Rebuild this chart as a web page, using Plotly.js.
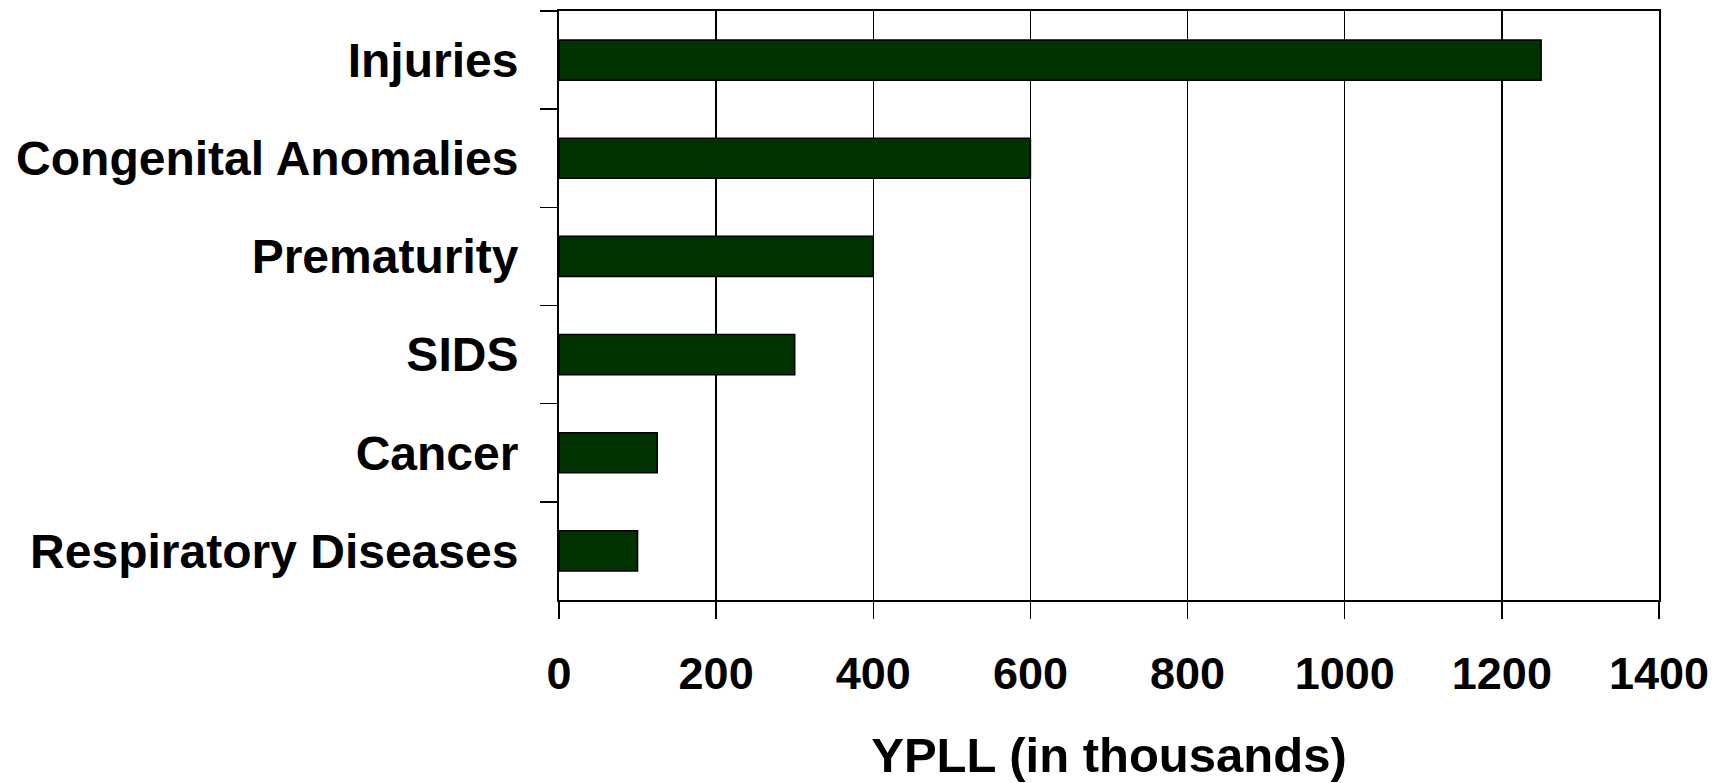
<!DOCTYPE html>
<html>
<head>
<meta charset="utf-8">
<script src="https://cdn.plot.ly/plotly-3.0.1.min.js"></script>
<style>
  html, body { margin: 0; padding: 0; background: #ffffff; }
  #chart { width: 1728px; height: 783px; }
</style>
</head>
<body>
<div id="chart"></div>
<script>
// Causes of death, listed top to bottom
const causes = [
  "Injuries",
  "Congenital Anomalies",
  "Prematurity",
  "SIDS",
  "Cancer",
  "Respiratory Diseases"
];

// Years of potential life lost, in thousands
const ypll = [1250, 600, 400, 300, 125, 100];

// Value axis ticks
const xTicks = [0, 200, 400, 600, 800, 1000, 1200, 1400];

const fontFamily = "Liberation Sans, Arial, Helvetica, sans-serif";

const trace = {
  type: "bar",
  orientation: "h",
  x: ypll,
  y: causes,
  marker: {
    color: "#003300",
    line: { color: "#000000", width: 1.5 }
  },
  hoverinfo: "x+y"
};

const layout = {
  width: 1728,
  height: 783,
  margin: { l: 559, r: 69, t: 11, b: 183, pad: 0 },
  paper_bgcolor: "#ffffff",
  plot_bgcolor: "#ffffff",
  showlegend: false,
  bargap: 0.59,
  font: { family: fontFamily, color: "#000000", weight: "bold" },
  xaxis: {
    range: [0, 1400],
    tickvals: xTicks,
    ticktext: xTicks.map(String),
    showgrid: true,
    gridcolor: "#000000",
    gridwidth: 1.5,
    zeroline: false,
    showline: true,
    linecolor: "#000000",
    linewidth: 2,
    mirror: true,
    ticks: "outside",
    ticklen: 17,
    tickwidth: 1.5,
    tickcolor: "#000000",
    ticklabelstandoff: 16,
    tickfont: { family: fontFamily, size: 45, color: "#000000", weight: "bold" },
    title: {
      text: "YPLL (in thousands)",
      font: { family: fontFamily, size: 49, color: "#000000", weight: "bold" },
      standoff: 40
    },
    fixedrange: true
  },
  yaxis: {
    type: "category",
    categoryorder: "array",
    categoryarray: causes,
    autorange: "reversed",
    tickson: "boundaries",
    showgrid: false,
    zeroline: false,
    showline: true,
    linecolor: "#000000",
    linewidth: 2,
    mirror: true,
    ticks: "outside",
    ticklen: 17,
    tickwidth: 1.5,
    tickcolor: "#000000",
    ticklabelstandoff: 29,
    tickfont: { family: fontFamily, size: 48, color: "#000000", weight: "bold" },
    fixedrange: true
  }
};

Plotly.newPlot("chart", [trace], layout, { displayModeBar: false, staticPlot: true });
</script>
</body>
</html>
